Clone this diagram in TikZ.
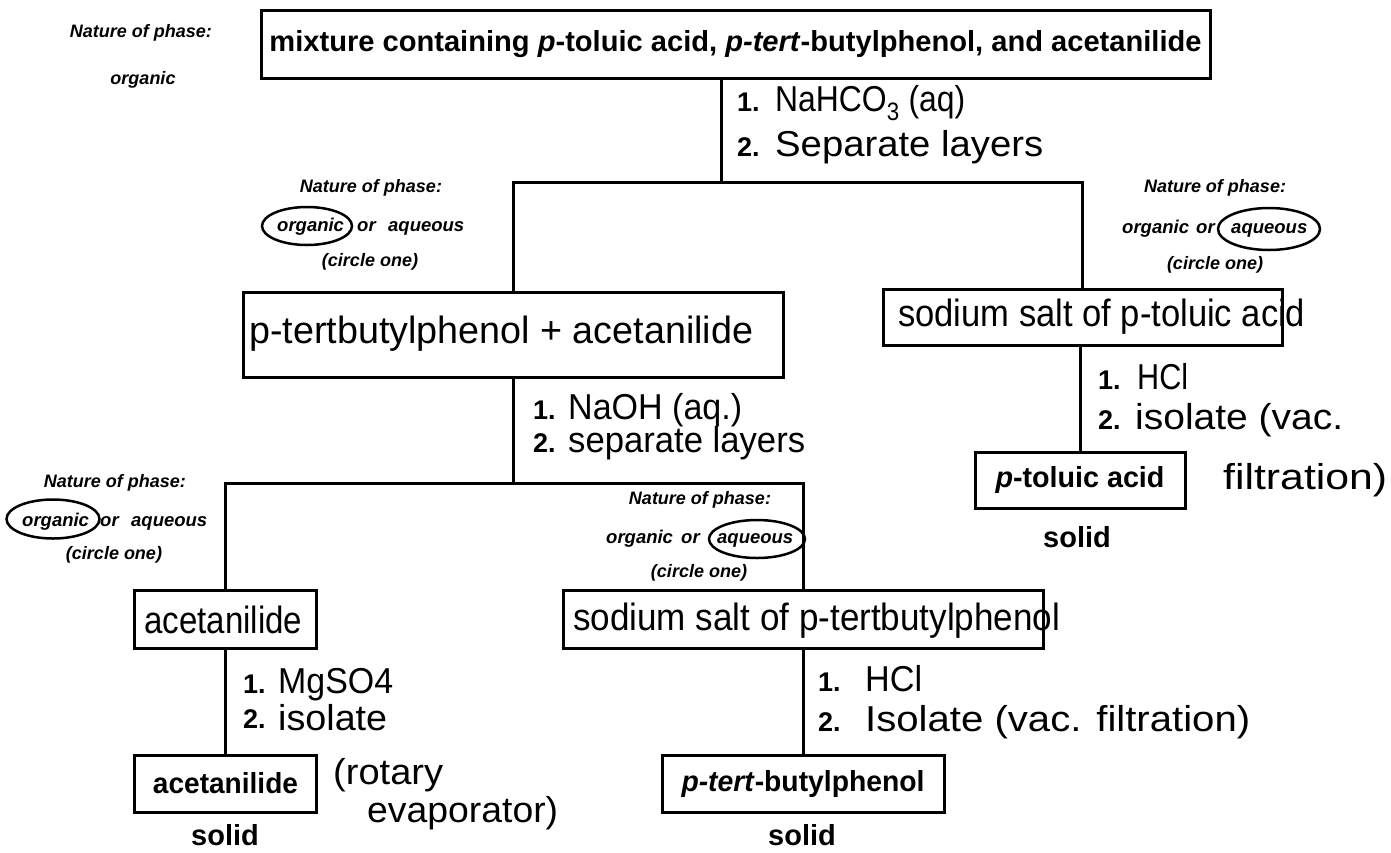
\documentclass[tikz,border=0pt]{standalone}
\usepackage{graphicx}
\usepackage{fontspec}
\setmainfont{Liberation Sans}
\usetikzlibrary{shapes.geometric}
\newcommand\hwfit[2]{\resizebox{#1}{\height}{#2}}
\begin{document}
\begin{tikzpicture}[x=1pt,y=-1pt,
  box/.style={draw, line width=3pt, inner sep=0pt, font=\fontsize{29}{31}\selectfont\bfseries},
  conn/.style={line width=3pt},
  np/.style={font=\fontsize{18}{20}\selectfont\bfseries\itshape, inner sep=0pt},
  npw/.style={font=\fontsize{18.5}{20}\selectfont\bfseries\itshape, inner sep=0pt, anchor=base west},
  hwtext/.style={font=\fontsize{36}{40}\selectfont, inner sep=0pt, anchor=base west},
  hwbox/.style={font=\fontsize{38}{40}\selectfont, inner sep=0pt, anchor=west},
  num/.style={font=\fontsize{27}{30}\selectfont\bfseries, inner sep=0pt, anchor=base west},
  circ/.style={draw, ellipse, line width=2.5pt, inner sep=0pt},
  solidlbl/.style={font=\fontsize{29}{31}\selectfont\bfseries, inner sep=0pt, anchor=base}]
\useasboundingbox[fill=white] (0,0) rectangle (1391,852);

% ---------- boxes ----------
\node[box, minimum width=949pt, minimum height=68pt] (top) at (735.5,44)
  {\hwfit{932pt}{mixture containing \textit{p}-toluic acid, \textit{p-tert}-butylphenol, and acetanilide}};
\node[box, minimum width=540pt, minimum height=85pt] (b1) at (513,334.5) {};
\node[box, minimum width=399pt, minimum height=56pt] (b2) at (1082.5,317) {};
\node[box, minimum width=182pt, minimum height=58pt] (b3) at (225.5,619) {};
\node[box, minimum width=480pt, minimum height=58pt] (b4) at (803,619) {};
\node[box, minimum width=210pt, minimum height=56pt] (b5) at (1080,480) {\hwfit{169pt}{\textit{p}-toluic acid}};
\node[box, minimum width=182pt, minimum height=57pt] (b6) at (225.5,783.5) {\hwfit{145pt}{acetanilide}};
\node[box, minimum width=282pt, minimum height=57pt] (b7) at (803,783.5) {\hwfit{243pt}{\textit{p-tert}-butylphenol}};

% ---------- handwritten box contents ----------
\node[hwbox] (t1) at (249,334) {\hwfit{504pt}{p-tertbutylphenol + acetanilide}};
\node[hwbox] (t2) at (898,317) {\hwfit{407pt}{sodium salt of p-toluic acid}};
\node[hwbox] (t3) at (144,620) {\hwfit{158pt}{acetanilide}};
\node[hwbox] (t4) at (573,621) {\hwfit{487pt}{sodium salt of p-tertbutylphenol}};

% ---------- connectors ----------
\coordinate (j1) at (721,182);
\coordinate (j2) at (513,483);
\draw[conn] (top.south -| j1) -- (j1);
\draw[conn] (b1.north) |- (j1) -| (b2.north);
\draw[conn] (b1.south) -- (j2);
\draw[conn] (b3.north) |- (j2) -| (b4.north);
\draw[conn] (b2.south -| b5.north) -- (b5.north);
\draw[conn] (b3.south) -- (b6.north);
\draw[conn] (b4.south) -- (b7.north);

% ---------- reagents ----------
\node[num] (n1a) at (737,111) {1.};
\node[num] (n1b) at (737,156) {2.};
\node[hwtext] (r1a) at (775,111) {\hwfit{190pt}{NaHCO\textsubscript{3} (aq)}};
\node[hwtext] (r1b) at (775,156) {\hwfit{268pt}{Separate layers}};

\node[num] (n2a) at (533,419) {1.};
\node[num] (n2b) at (533,452) {2.};
\node[hwtext] (r2a) at (568,419) {\hwfit{174pt}{NaOH (aq.)}};
\node[hwtext] (r2b) at (568,452) {\hwfit{237pt}{separate layers}};

\node[num] (n3a) at (1098,389) {1.};
\node[num] (n3b) at (1098,429) {2.};
\node[hwtext] (r3a) at (1137,389) {\hwfit{51pt}{HCl}};
\node[hwtext] (r3b) at (1135,429) {\hwfit{208pt}{isolate (vac.}};
\node[hwtext] (r3c) at (1223,489) {\hwfit{164pt}{filtration)}};

\node[num] (n4a) at (243,693) {1.};
\node[num] (n4b) at (243,728) {2.};
\node[hwtext] (r4a) at (278,693) {\hwfit{115pt}{MgSO4}};
\node[hwtext] (r4b) at (278,730) {\hwfit{109pt}{isolate}};
\node[hwtext] (r4c) at (333,784) {\hwfit{110pt}{(rotary}};
\node[hwtext] (r4d) at (367,822) {\hwfit{191pt}{evaporator)}};

\node[num] (n5a) at (818,691) {1.};
\node[num] (n5b) at (818,731) {2.};
\node[hwtext] (r5a) at (865,691) {\hwfit{57pt}{HCl}};
\node[hwtext] (r5b) at (865,731) {\hwfit{385pt}{Isolate (vac. filtration)}};

% ---------- solid labels ----------
\node[solidlbl] (s1) at (1077,547) {solid};
\node[solidlbl] (s2) at (225,845) {solid};
\node[solidlbl] (s3) at (802,845) {solid};

% ---------- nature of phase ----------
\node[np] (p0a) at (141,33) {Nature of phase:};
\node[np] (p0b) at (143,80) {organic};

\node[np] (p1a) at (371,188) {Nature of phase:};
\node[npw] (p1o) at (277,231) {organic};
\node[npw] (p1r) at (357,231) {or};
\node[npw] (p1q) at (388,231) {aqueous};
\node[np] (p1c) at (370,262) {(circle one)};
\node[circ, minimum width=90pt, minimum height=38pt] (e1) at (307,226) {};

\node[np] (p2a) at (1215,188) {Nature of phase:};
\node[npw] (p2o) at (1122,233) {organic};
\node[npw] (p2r) at (1196,233) {or};
\node[npw] (p2q) at (1231,233) {aqueous};
\node[np] (p2c) at (1215,265) {(circle one)};
\node[circ, minimum width=102pt, minimum height=42pt] (e2) at (1269,229) {};

\node[np] (p3a) at (115,483) {Nature of phase:};
\node[npw] (p3o) at (22,526) {organic};
\node[npw] (p3r) at (100,526) {or};
\node[npw] (p3q) at (131,526) {aqueous};
\node[np] (p3c) at (114,555) {(circle one)};
\node[circ, minimum width=93pt, minimum height=39pt] (e3) at (53,519) {};

\node[np] (p4a) at (700,500) {Nature of phase:};
\node[npw] (p4o) at (606,543) {organic};
\node[npw] (p4r) at (681,543) {or};
\node[npw] (p4q) at (717,543) {aqueous};
\node[np] (p4c) at (699,573) {(circle one)};
\node[circ, minimum width=96pt, minimum height=38pt] (e4) at (757,539) {};
\end{tikzpicture}
\end{document}
